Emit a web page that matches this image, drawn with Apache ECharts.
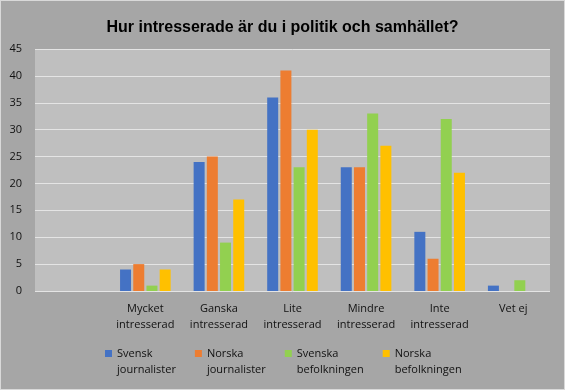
<!DOCTYPE html>
<html><head><meta charset="utf-8">
<script src="https://cdn.jsdelivr.net/npm/echarts@6/dist/echarts.min.js"></script>
<style>
html,body{margin:0;padding:0;background:#a6a6a6;}
#c{width:565px;height:390px;box-sizing:border-box;border:1px solid #d9d9d9;}
</style></head><body>
<div id="c"></div>
<script>
const categories = ["", "Mycket\nintresserad", "Ganska\nintresserad", "Lite\nintresserad", "Mindre\nintresserad", "Inte\nintresserad", "Vet ej"];
const seriesNames = ["Svensk\njournalister", "Norska\njournalister", "Svenska\nbefolkningen", "Norska\nbefolkningen"];
const svenskJournalister = [null, 4, 24, 36, 23, 11, 1];
const norskaJournalister = [null, 5, 25, 41, 23, 6, null];
const svenskaBefolkningen = [null, 1, 9, 23, 33, 32, 2];
const norskaBefolkningen = [null, 4, 17, 30, 27, 22, null];
const yTicks = [0, 5, 10, 15, 20, 25, 30, 35, 40, 45];
const colors = ["#4472C4", "#ED7D31", "#92D050", "#FFC000"];

const titleFont = "Liberation Sans";
const font = "Open Sans";
const legendIcon = 'path://M0,4h7v7h-7z M0,0L0.001,0 M0,32L0.001,32';
const chart = echarts.init(document.getElementById('c'), null, {renderer:'canvas'});
const allData = [svenskJournalister, norskaJournalister, svenskaBefolkningen, norskaBefolkningen];
chart.setOption({
  animation: false,
  color: colors,
  title: {
    text: "Hur intresserade är du i politik och samhället?",
    left: 'center', top: 14,
    textStyle: {fontFamily: titleFont, fontWeight: 'bold', fontSize: 16, color: '#000'}
  },
  grid: {left: 34, right: 14, top: 48, bottom: 98, backgroundColor: '#bfbfbf', show: true, borderWidth: 0},
  legend: {
    left: 104, top: 345, itemGap: 19, itemWidth: 7, itemHeight: 32, padding: 0,
    icon: legendIcon,
    textStyle: {fontFamily: font, fontSize: 11, color: '#111', lineHeight: 16}
  },
  xAxis: {
    type: 'category', data: categories,
    axisLine: {show: false}, axisTick: {show: false},
    axisLabel: {fontFamily: font, fontSize: 11, color: '#111', lineHeight: 16, margin: 10, interval: 0}
  },
  yAxis: {
    type: 'value', min: 0, max: 45, interval: 5,
    axisLine: {show: false}, axisTick: {show: false},
    splitLine: {lineStyle: {color: '#e4e4e4', width: 1}},
    axisLabel: {fontFamily: font, fontSize: 11, color: '#111', margin: 13,
      formatter: v => yTicks.includes(v) ? String(v) : ''}
  },
  series: seriesNames.map((n, i) => ({
    name: n, type: 'bar', data: allData[i], barWidth: 11, barGap: '20%',
    itemStyle: {color: colors[i]}
  }))
});
</script>
</body></html>
